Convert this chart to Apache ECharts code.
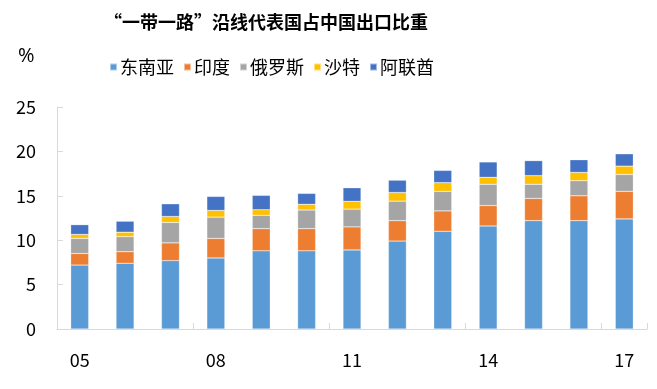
<!DOCTYPE html>
<html>
<head>
<meta charset="utf-8">
<script src="https://cdn.jsdelivr.net/npm/echarts@6/dist/echarts.min.js"></script>
<style>html,body{margin:0;padding:0;background:#fff;}#c{width:657px;height:389px;}</style>
</head>
<body>
<div id="c"></div>
<script>
const years = ['05','06','07','08','09','10','11','12','13','14','15','16','17'];
const seaData   = [7.2, 7.4, 7.7, 8.0, 8.8, 8.8, 8.9, 9.9, 11.0, 11.6, 12.2, 12.2, 12.4];
const indiaData = [1.3, 1.3, 2.0, 2.2, 2.5, 2.5, 2.6, 2.3, 2.3, 2.3, 2.5, 2.8, 3.1];
const russiaData= [1.7, 1.7, 2.3, 2.4, 1.5, 2.1, 2.0, 2.2, 2.2, 2.4, 1.6, 1.7, 1.9];
const saudiData = [0.45, 0.5, 0.67, 0.75, 0.63, 0.64, 0.87, 0.97, 0.98, 0.78, 0.97, 0.93, 0.94];
const uaeData   = [1.1, 1.24, 1.43, 1.58, 1.62, 1.23, 1.54, 1.39, 1.38, 1.73, 1.69, 1.43, 1.39];
const seriesNames = ['东南亚','印度','俄罗斯','沙特','阿联酋'];
const colors = ['#5B9BD5','#ED7D31','#A5A5A5','#FFC000','#4472C4'];
const yTicks = [0,5,10,15,20,25];

const font = '"Noto Sans CJK SC", "Open Sans", sans-serif';
const chart = echarts.init(document.getElementById('c'));
const dataSets = [seaData, indiaData, russiaData, saudiData, uaeData];
chart.setOption({
  animation: false,
  color: colors,
  title: {
    text: '“一带一路”沿线代表国占中国出口比重',
    left: 99, top: 8,
    textStyle: {fontFamily: font, fontSize: 18, fontWeight: 'bold', color: '#000'}
  },
  graphic: [{
    type: 'text', left: 18, top: 46,
    style: {text: '%', fontFamily: '"Open Sans", sans-serif', fontSize: 20, fill: '#000'}
  }],
  legend: {
    data: seriesNames,
    left: 104, top: 53,
    itemWidth: 7, itemHeight: 7, itemGap: 9,
    icon: 'rect',
    textStyle: {fontFamily: font, fontSize: 18, color: '#000', padding: [0,0,0,-2]}
  },
  grid: {left: 57, right: 10, top: 107, bottom: 60, containLabel: false},
  xAxis: {
    type: 'category',
    data: years,
    axisLine: {lineStyle: {color: '#D9D9D9', width: 1}},
    axisTick: {show: true, inside: true, length: 6, interval: 2, lineStyle: {color: '#D9D9D9'}},
    axisLabel: {interval: 2, margin: 22, fontFamily: font, fontSize: 18, color: '#000'}
  },
  yAxis: {
    type: 'value',
    min: 0, max: 25, interval: 5,
    axisLine: {show: true, lineStyle: {color: '#D9D9D9'}},
    axisTick: {show: true, inside: true, length: 6, lineStyle: {color: '#D9D9D9'}},
    splitLine: {show: false},
    axisLabel: {margin: 21, fontFamily: font, fontSize: 18, color: '#000',
      formatter: v => yTicks.includes(v) ? String(v) : ''}
  },
  series: seriesNames.map((n, i) => ({
    name: n, type: 'bar', stack: 'total', barWidth: 18,
    data: dataSets[i],
    itemStyle: {color: colors[i], borderColor: 'rgba(255,255,255,0.5)', borderWidth: 0.5}
  }))
});
</script>
</body>
</html>
